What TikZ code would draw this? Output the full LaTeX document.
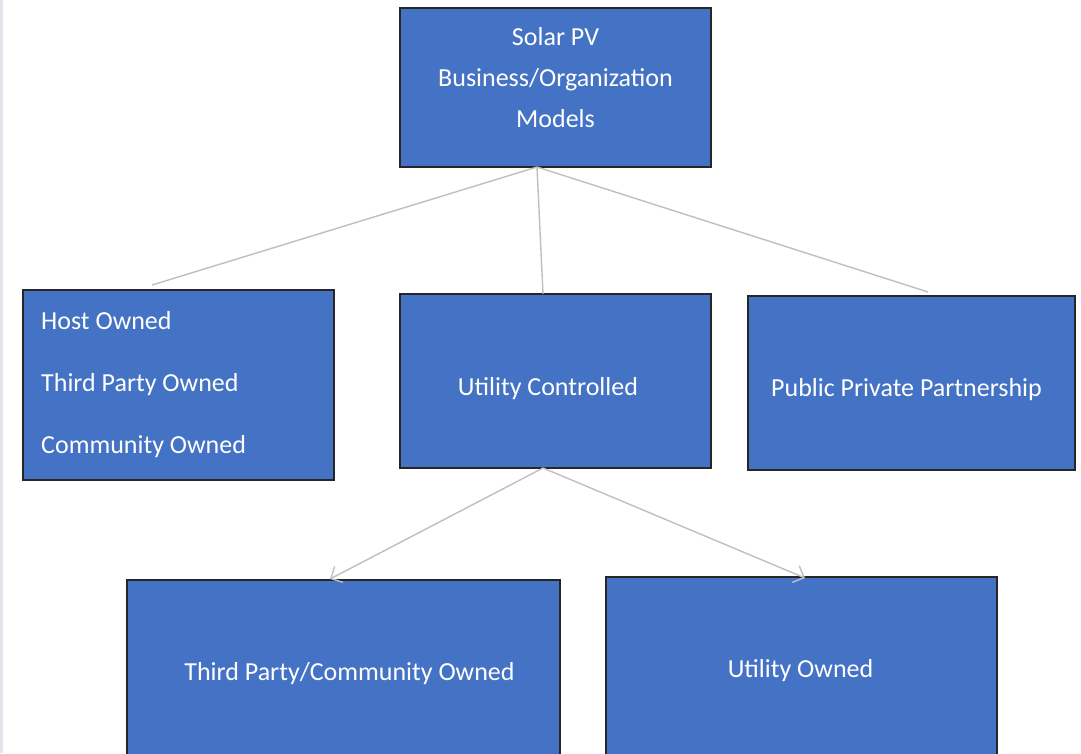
\documentclass[tikz,border=0pt]{standalone}
\usepackage{fontspec}
\setmainfont{Carlito}
\usetikzlibrary{arrows.meta}
\definecolor{boxblue}{HTML}{4472C4}
\definecolor{linkgray}{HTML}{BFBFBF}
\definecolor{edgegray}{HTML}{E4E5EC}
\tikzset{
  modelbox/.style={draw=black!85, line width=1.4pt, fill=boxblue, inner sep=0pt},
  boxtext/.style={text=white, inner sep=0pt, font=\fontsize{26}{41}\selectfont, align=center},
  link/.style={draw=linkgray, line width=1.4pt},
}
\begin{document}
\begin{tikzpicture}[x=1pt, y=-1pt]
  \useasboundingbox (0,0) rectangle (1081,753);
  \fill[white] (0,0) rectangle (1081,753);
  \fill[edgegray] (0,0) rectangle (3,753);
  % boxes
  \node[modelbox, minimum width=311pt, minimum height=159pt] (models) at (555.5,87.5) {};
  \node[modelbox, minimum width=311pt, minimum height=190pt] (owned) at (178.5,385) {};
  \node[modelbox, minimum width=311pt, minimum height=174pt] (utility) at (555.5,381) {};
  \node[modelbox, minimum width=327pt, minimum height=174pt] (ppp) at (911.5,383) {};
  \node[modelbox, minimum width=433pt, minimum height=184pt] (thirdcomm) at (343.5,672) {};
  \node[modelbox, minimum width=391pt, minimum height=184pt] (utilowned) at (801.5,669) {};
  % texts
  \node[boxtext] (modelstext) at (555.5,78) {Solar PV\\Business/Organization\\Models};
  \node[boxtext, anchor=west, align=left, font=\fontsize{26}{62}\selectfont]
    (ownedtext) at (41,384.5) {Host Owned\\Third Party Owned\\Community Owned};
  \node[boxtext] (utilitytext) at (548,389) {Utility Controlled};
  \node[boxtext] (ppptext) at (906.5,390) {Public Private Partnership};
  \node[boxtext] (thirdcommtext) at (349.5,674) {Third Party/Community Owned};
  \node[boxtext] (utilownedtext) at (800.5,671) {Utility Owned};
  % connectors
  \coordinate (modelsfoot) at (537,167);
  \coordinate (ownedtop) at (152,285);
  \coordinate (utiltop) at (543,294);
  \coordinate (ppptop) at (928,292);
  \coordinate (utilfoot) at (543,468);
  \coordinate (thirdtop) at (330,579);
  \coordinate (ownedtip) at (805,578);
  \draw[link] (modelsfoot) -- (ownedtop);
  \draw[link] (modelsfoot) -- (utiltop);
  \draw[link] (modelsfoot) -- (ppptop);
  \draw[link, -{Straight Barb[length=9pt, width=18pt]}] (utilfoot) -- (thirdtop);
  \draw[link, -{Straight Barb[length=9pt, width=18pt]}] (utilfoot) -- (ownedtip);
\end{tikzpicture}
\end{document}
